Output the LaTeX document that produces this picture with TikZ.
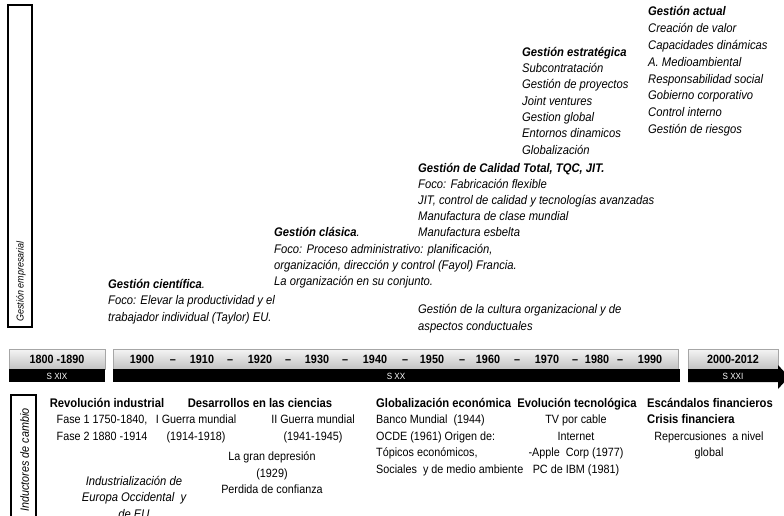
\documentclass[tikz,border=0pt]{standalone}
\usepackage{fontspec}
\setmainfont{Liberation Sans}[FakeStretch=0.9]
\newcommand\bodyfont{\fontsize{12.5}{16.5}\selectfont}
\newcommand\lowfont{\fontsize{12}{16.5}\selectfont}
\newcommand\yearfont{\fontsize{12}{14}\selectfont\bfseries}
\newcommand\sigfont{\fontsize{9}{10}\selectfont}
\tikzset{
  itblock/.style={inner sep=0, anchor=north west, align=left, font=\bodyfont\itshape},
  lblock/.style={inner sep=0, anchor=north west, align=left, font=\lowfont},
  cblock/.style={inner sep=0, anchor=north, align=center, font=\lowfont},
  ttl/.style={inner sep=0, anchor=north, font=\bodyfont\bfseries},
  year/.style={inner sep=0, anchor=base, text height=9pt, text depth=0pt, font=\yearfont},
  sig/.style={inner sep=0, anchor=base, text height=6.5pt, text depth=0pt, font=\sigfont, text=white},
  graybox/.style={top color=black!4, bottom color=black!24, draw=black!35, line width=0.5pt},
  blackbar/.style={fill=black, draw=none},
  sidebox/.style={draw=black, line width=1.4pt},
  sidetxt/.style={inner sep=0, rotate=90, anchor=west}
}
\begin{document}
\begin{tikzpicture}[x=1pt,y=-1pt]
\useasboundingbox (0,0) rectangle (784,516);
\clip (0,0) rectangle (784,516);
% side boxes
\draw[sidebox] (8,5) rectangle (32,327);
\node[sidetxt, font=\fontsize{10}{12}\selectfont\itshape] (ge) at (21,322) {Gestión empresarial};
\draw[sidebox] (11,395) rectangle (36,530);
\node[sidetxt, font=\fontsize{12}{14}\selectfont\itshape] (ic) at (24.5,512) {Inductores de cambio};
% timeline
\draw[graybox] (9,349) rectangle (105,369);
\fill[blackbar] (9,369) rectangle (105,382);
\draw[graybox] (113,349) rectangle (678,369);
\fill[blackbar] (113,369) rectangle (680,382);
\draw[graybox] (688,349) rectangle (778,369);
\fill[blackbar] (688,369) -- (778,369) -- (778,365) -- (789,377) -- (778,389) -- (778,382) -- (688,382) -- cycle;
\node[year] (y1) at (57,363.5) {1800 -1890};
\node[sig] (s19) at (57,379.5) {S XIX};
\node[year] (y1900) at (142,363.5) {1900};
\node[year] (d1) at (173,363.5) {–};
\node[year] (y1910) at (202,363.5) {1910};
\node[year] (d2) at (230,363.5) {–};
\node[year] (y1920) at (260,363.5) {1920};
\node[year] (d3) at (288,363.5) {–};
\node[year] (y1930) at (317,363.5) {1930};
\node[year] (d4) at (345,363.5) {–};
\node[year] (y1940) at (375,363.5) {1940};
\node[year] (d5) at (405,363.5) {–};
\node[year] (y1950) at (432,363.5) {1950};
\node[year] (d6) at (462,363.5) {–};
\node[year] (y1960) at (488,363.5) {1960};
\node[year] (d7) at (517,363.5) {–};
\node[year] (y1970) at (547,363.5) {1970};
\node[year] (d8) at (575,363.5) {–};
\node[year] (y1980) at (597,363.5) {1980};
\node[year] (d9) at (620,363.5) {–};
\node[year] (y1990) at (650,363.5) {1990};
\node[sig] (s20) at (396,379.5) {S XX};
\node[year] (y2000) at (733,363.5) {2000-2012};
\node[sig] (s21) at (733,379.5) {S XXI};
% upper blocks
\node[itblock] (sci) at (108,279) {\textbf{Gestión científica}.\\Foco: Elevar la productividad y el\\trabajador individual (Taylor) EU.};
\node[itblock, font=\fontsize{12.5}{16.2}\selectfont\itshape] (cla) at (274,227.5) {\textbf{Gestión clásica}.\\Foco: Proceso administrativo: planificación,\\organización, dirección y control (Fayol) Francia.\\La organización en su conjunto.};
\node[itblock, font=\fontsize{12.5}{16}\selectfont\itshape] (tqc) at (418,163) {\textbf{Gestión de Calidad Total, TQC, JIT.}\\Foco: Fabricación flexible\\JIT, control de calidad y tecnologías avanzadas\\Manufactura de clase mundial\\Manufactura esbelta};
\node[itblock] (cul) at (418,304.5) {Gestión de la cultura organizacional y de\\aspectos conductuales};
\node[itblock, font=\fontsize{12.5}{16.3}\selectfont\itshape] (est) at (522,47) {\textbf{Gestión estratégica}\\Subcontratación\\Gestión de proyectos\\Joint ventures\\Gestion global\\Entornos dinamicos\\Globalización};
\node[itblock, font=\fontsize{12.5}{16.8}\selectfont\itshape] (act) at (648,6.5) {\textbf{Gestión actual}\\Creación de valor\\Capacidades dinámicas\\A. Medioambiental\\Responsabilidad social\\Gobierno corporativo\\Control interno\\Gestión de riesgos};
% lower blocks
\node[ttl] (rev) at (107,398) {Revolución industrial};
\node[cblock] (revb) at (102,415) {Fase 1 1750-1840,\\Fase 2 1880 -1914};
\node[cblock, font=\bodyfont\itshape] (ind) at (134,476) {Industrialización de\\Europa Occidental \ y\\de EU};
\node[ttl] (des) at (260,398) {Desarrollos en las ciencias};
\node[cblock] (gm1) at (196,415) {I Guerra mundial\\(1914-1918)};
\node[cblock] (gm2) at (313,415) {II Guerra mundial\\(1941-1945)};
\node[cblock] (dep) at (272,451.5) {La gran depresión\\(1929)\\Perdida de confianza};
\node[ttl, anchor=north west] (glo) at (376,398) {Globalización económica};
\node[lblock] (glob) at (376,415) {Banco Mundial \ (1944)\\OCDE (1961) Origen de:\\Tópicos económicos,\\Sociales \ y de medio ambiente};
\node[ttl] (evo) at (577,398) {Evolución tecnológica};
\node[cblock] (evob) at (576,415) {TV por cable\\Internet\\-Apple \ Corp (1977)\\PC de IBM (1981)};
\node[lblock, font=\bodyfont\bfseries] (esc) at (647,398) {Escándalos financieros\\Crisis financiera};
\node[cblock] (escb) at (709,431.5) {Repercusiones \ a nivel\\global};
\end{tikzpicture}
\end{document}
